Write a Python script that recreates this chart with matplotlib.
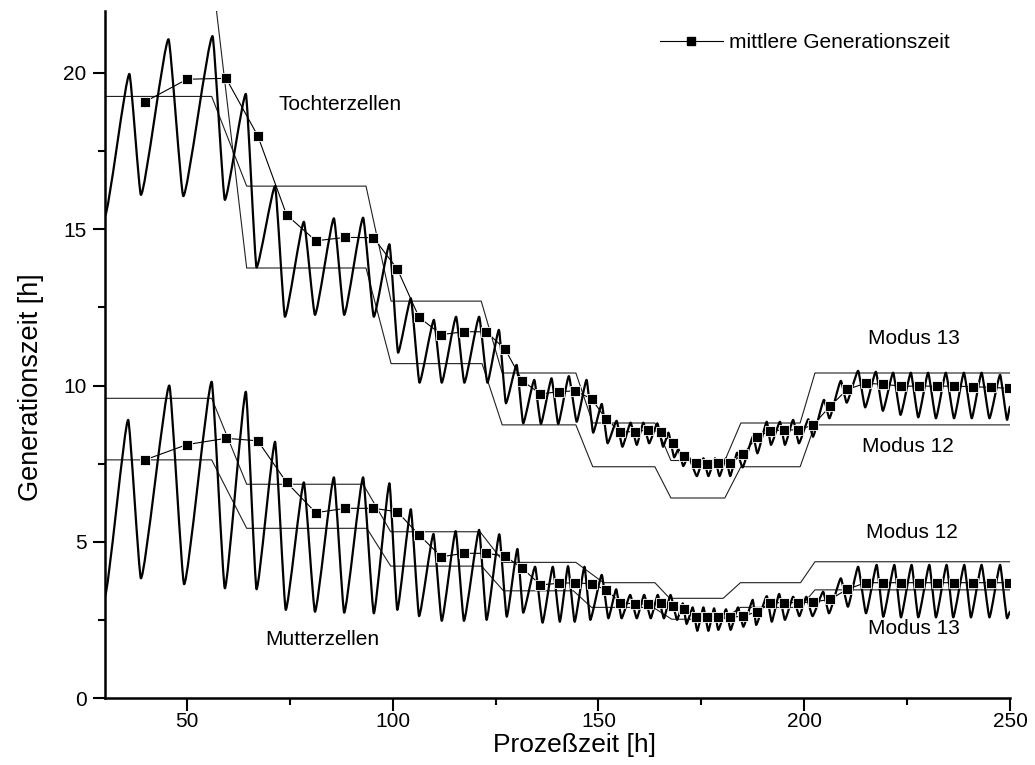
import matplotlib
matplotlib.use("Agg")
import matplotlib.pyplot as plt
from matplotlib.path import Path
from matplotlib.patches import PathPatch
from matplotlib.lines import Line2D
from matplotlib.ticker import MultipleLocator

plt.rcParams['font.family'] = ['Liberation Sans', 'DejaVu Sans']

# ---------------- data ----------------
# Tochterzellen oscillation (extrema)
toch_x = [30.0, 36.0, 38.8, 45.5, 49.1, 56.2, 59.2, 64.3, 66.9, 71.4, 73.8, 78.4, 81.1, 85.7,
          88.2, 92.8, 95.4, 99.2, 101.3, 104.4, 106.5, 110.0, 111.9, 115.4, 117.4, 121.0, 123.0,
          125.8, 127.5, 130.1, 131.7, 134.4, 136.0, 138.6, 140.2, 142.8, 144.7, 147.1, 148.7,
          150.8, 152.2, 154.4, 155.8, 157.8, 159.3, 160.9, 162.3, 164.3, 165.7, 167.0, 168.4,
          169.4, 170.6, 171.8, 173.9, 175.5, 176.7, 178.3, 179.4, 181.0, 182.0, 183.7, 185.0,
          187.6, 188.6, 190.9, 191.9, 194.1, 195.3, 197.3, 198.7, 201.0, 202.1, 204.8, 206.1,
          208.9, 210.3, 213.1, 214.8, 217.4, 219.1, 221.6, 223.4, 225.9, 227.7, 230.1, 232.0,
          234.4, 236.4, 238.8, 240.7, 243.1, 245.0, 247.6, 249.3, 250.0]
toch_y = [15.4, 19.97, 16.1, 21.08, 16.06, 21.18, 15.94, 19.33, 13.78, 16.38, 12.2, 15.24, 12.26, 15.35,
          12.26, 15.37, 12.2, 14.52, 11.05, 12.79, 10.09, 12.1, 10.09, 12.2, 10.09, 12.2, 10.09,
          11.78, 9.43, 10.66, 8.79, 10.18, 8.77, 10.23, 8.77, 10.3, 8.84, 10.18, 8.49,
          9.41, 8.15, 8.87, 8.04, 8.81, 8.1, 8.81, 8.15, 8.79, 8.04, 8.49, 7.7,
          7.96, 7.42, 7.74, 7.1, 7.67, 7.1, 7.67, 7.1, 7.67, 7.1, 7.85, 7.38,
          8.38, 7.83, 8.84, 8.1, 8.84, 8.1, 8.9, 8.15, 8.92, 8.36, 9.54, 8.95,
          10.15, 9.45, 10.47, 9.3, 10.44, 9.19, 10.41, 9.06, 10.41, 8.98, 10.41, 8.95,
          10.41, 8.95, 10.41, 8.95, 10.41, 8.95, 10.34, 8.9, 9.32]

# Mutterzellen oscillation (extrema)
mut_x = [30.0, 35.7, 38.8, 45.7, 49.3, 56.0, 59.2, 64.3, 66.9, 71.4, 74.0, 78.4, 81.1, 85.7,
         88.2, 92.8, 95.4, 99.2, 101.1, 104.4, 106.4, 109.9, 111.9, 115.3, 117.3, 121.0, 122.8,
         125.9, 127.7, 130.3, 131.7, 134.6, 136.4, 138.9, 140.6, 142.6, 144.2, 146.6, 148.0,
         150.8, 152.4, 154.3, 155.6, 157.7, 159.3, 161.1, 162.7, 164.4, 165.9, 167.5, 169.1,
         170.5, 171.4, 172.9, 174.0, 175.5, 176.7, 178.1, 179.1, 181.0, 182.1, 183.9, 185.2,
         187.5, 188.3, 190.9, 192.1, 193.9, 195.3, 197.3, 198.8, 200.5, 202.0, 204.6, 206.0,
         208.9, 210.6, 213.1, 215.0, 217.6, 219.2, 221.9, 223.5, 226.1, 227.7, 230.4, 232.0,
         234.6, 236.2, 238.9, 240.5, 243.1, 245.0, 247.6, 249.3, 250.0]
mut_y = [3.24, 8.9, 3.83, 10.0, 3.64, 10.12, 3.51, 9.8, 3.48, 8.2, 2.82, 6.9, 2.76, 7.06,
         2.73, 7.06, 2.71, 6.87, 2.82, 6.04, 2.62, 5.25, 2.47, 5.34, 2.47, 5.38, 2.5,
         5.24, 2.6, 4.77, 2.73, 4.2, 2.41, 4.2, 2.44, 4.22, 2.44, 4.2, 2.5,
         3.94, 2.55, 3.48, 2.55, 3.3, 2.55, 3.3, 2.55, 3.3, 2.55, 3.3, 2.5,
         3.03, 2.37, 2.9, 2.15, 2.9, 2.15, 2.87, 2.18, 2.84, 2.18, 2.9, 2.28,
         3.14, 2.34, 3.26, 2.44, 3.33, 2.5, 3.24, 2.62, 3.24, 2.62, 3.4, 2.71,
         3.83, 2.92, 4.2, 2.71, 4.26, 2.6, 4.26, 2.58, 4.26, 2.58, 4.26, 2.58,
         4.26, 2.58, 4.26, 2.58, 4.26, 2.58, 4.26, 2.55, 2.76]

# mittlere Generationszeit (squares)
mean_x = [39.8, 50.0, 59.5, 67.2, 74.2, 81.3, 88.5, 95.3, 101.1, 106.4, 111.8, 117.3, 122.7,
          127.3, 131.5, 135.9, 140.3, 144.4, 148.3, 151.9, 155.3, 158.8, 162.1, 165.3, 168.0,
          170.8, 173.6, 176.3, 179.1, 182.0, 185.2, 188.5, 191.7, 195.2, 198.6, 202.2, 206.3,
          210.5, 214.9, 219.2, 223.5, 227.8, 232.2, 236.5, 241.0, 245.4, 249.7]
mean_toch = [19.08, 19.8, 19.83, 17.99, 15.46, 14.63, 14.74, 14.73, 13.73, 12.18, 11.63, 11.72,
             11.72, 11.16, 10.15, 9.73, 9.8, 9.83, 9.57, 8.92, 8.52, 8.52, 8.58, 8.52, 8.15,
             7.74, 7.51, 7.49, 7.51, 7.51, 7.81, 8.35, 8.55, 8.58, 8.58, 8.74, 9.34, 9.88,
             10.07, 10.04, 9.98, 9.98, 9.98, 9.98, 9.96, 9.94, 9.91]
mean_mut = [7.62, 8.11, 8.31, 8.23, 6.9, 5.93, 6.07, 6.07, 5.96, 5.22, 4.52, 4.63, 4.63, 4.54,
            4.15, 3.62, 3.67, 3.69, 3.65, 3.46, 3.05, 3.01, 3.01, 3.03, 2.94, 2.84, 2.6, 2.58,
            2.6, 2.58, 2.62, 2.76, 3.05, 3.05, 3.05, 3.07, 3.16, 3.48, 3.69, 3.69, 3.69, 3.69,
            3.69, 3.69, 3.69, 3.69, 3.69]

# Modus boundaries, Tochterzellen
toch13_x = [30, 56.0, 64.5, 93.5, 99.6, 121.5, 126.6, 144.5, 148.6, 163.7, 167.6, 180.7, 184.6, 199.0, 202.6, 250]
toch13_y = [19.25, 19.25, 16.38, 16.38, 12.7, 12.7, 10.4, 10.4, 8.8, 8.8, 7.6, 7.6, 8.8, 8.8, 10.4, 10.4]
toch12_x = [30, 56.0, 64.5, 93.5, 99.6, 121.7, 126.6, 144.5, 148.6, 163.7, 167.6, 180.7, 184.6, 199.0, 202.6, 250]
toch12_y = [23.3, 23.3, 13.76, 13.76, 10.7, 10.7, 8.74, 8.74, 7.4, 7.4, 6.4, 6.4, 7.4, 7.4, 8.74, 8.74]
# Modus boundaries, Mutterzellen
mut12_x = [30, 56.0, 64.5, 92.8, 99.5, 121.2, 127.0, 144.5, 151.2, 163.7, 167.3, 180.3, 184.5, 199.1, 202.6, 250]
mut12_y = [9.59, 9.59, 6.84, 6.84, 5.32, 5.32, 4.34, 4.34, 3.69, 3.69, 3.19, 3.19, 3.69, 3.69, 4.36, 4.36]
mut13_x = [30, 56.0, 64.5, 93.7, 99.5, 121.6, 126.9, 143.9, 148.3, 163.3, 167.8, 180.3, 184.5, 199.0, 202.6, 250]
mut13_y = [7.62, 7.62, 5.43, 5.43, 4.22, 4.22, 3.43, 3.43, 2.9, 2.9, 2.52, 2.52, 2.9, 2.9, 3.46, 3.46]

x_ticks = [50, 100, 150, 200, 250]
y_ticks = [0, 5, 10, 15, 20]

# ---------------- drawing ----------------
W, H = 1035, 765
fig = plt.figure(figsize=(W / 100, H / 100), dpi=100)
ax = fig.add_axes([104.7 / W, 1 - 698 / H, (1010 - 104.7) / W, (698 - 10.5) / H])


def smooth(xs, ys, f=0.15):
    verts = [(xs[0], ys[0])]
    codes = [Path.MOVETO]
    for i in range(len(xs) - 1):
        dx = xs[i + 1] - xs[i]
        verts += [(xs[i] + f * dx, ys[i]), (xs[i + 1] - f * dx, ys[i + 1]), (xs[i + 1], ys[i + 1])]
        codes += [Path.CURVE4] * 3
    return Path(verts, codes)


for xs, ys in [(toch_x, toch_y), (mut_x, mut_y)]:
    ax.add_patch(PathPatch(smooth(xs, ys), fill=False, edgecolor='black', lw=1.6,
                           joinstyle='round', capstyle='round', zorder=3))

for xs, ys in [(toch13_x, toch13_y), (toch12_x, toch12_y), (mut12_x, mut12_y), (mut13_x, mut13_y)]:
    ax.plot(xs, ys, color='#202020', lw=0.8, zorder=2)

for ys in [mean_toch, mean_mut]:
    ax.plot(mean_x, ys, color='black', lw=0.8, marker='s', markersize=6.5,
            markerfacecolor='black', markeredgecolor='white', markeredgewidth=0.6, zorder=4)

ax.set_xlim(30, 250)
ax.set_ylim(0, 22)
ax.set_xticks(x_ticks)
ax.set_yticks(y_ticks)
ax.xaxis.set_minor_locator(MultipleLocator(25))
ax.yaxis.set_minor_locator(MultipleLocator(2.5))
ax.tick_params(which='major', direction='out', length=9, width=1.5, labelsize=15)
ax.tick_params(axis='x', which='major', pad=1)
ax.tick_params(axis='y', which='major', pad=4)
ax.tick_params(which='minor', direction='out', length=5, width=1.5)
for s in ['top', 'right']:
    ax.spines[s].set_visible(False)
for s in ['left', 'bottom']:
    ax.spines[s].set_linewidth(1.8)

ax.set_xlabel('Prozeßzeit [h]', fontsize=19)
ax.xaxis.set_label_coords((574.5 - 104.7) / 905.3, (698 - 733) / 687.5)
ax.set_ylabel('Generationszeit [h]', fontsize=19.5)
ax.yaxis.set_label_coords((44 - 104.7) / 905.3, (698 - 387) / 687.5)

tk = dict(fontsize=15, ha='left', va='center')
ax.text(72.2, 18.98, 'Tochterzellen', **tk)
ax.text(69.0, 1.86, 'Mutterzellen', **tk)
ax.text(215.5, 11.49, 'Modus 13', **tk)
ax.text(214.0, 8.06, 'Modus 12', **tk)
ax.text(215.0, 5.31, 'Modus 12', **tk)
ax.text(215.5, 2.24, 'Modus 13', **tk)

handle = Line2D([], [], color='black', lw=0.8, marker='s', markersize=5.5,
                markerfacecolor='black', markeredgecolor='black')
fig.legend([handle], ['mittlere Generationszeit'], loc='upper left',
           bbox_to_anchor=(660 / W, 1 - 33 / H), frameon=False, fontsize=15,
           handlelength=3.0, handletextpad=0.3, borderpad=0, borderaxespad=0)

fig.savefig('out.png', dpi=100)
